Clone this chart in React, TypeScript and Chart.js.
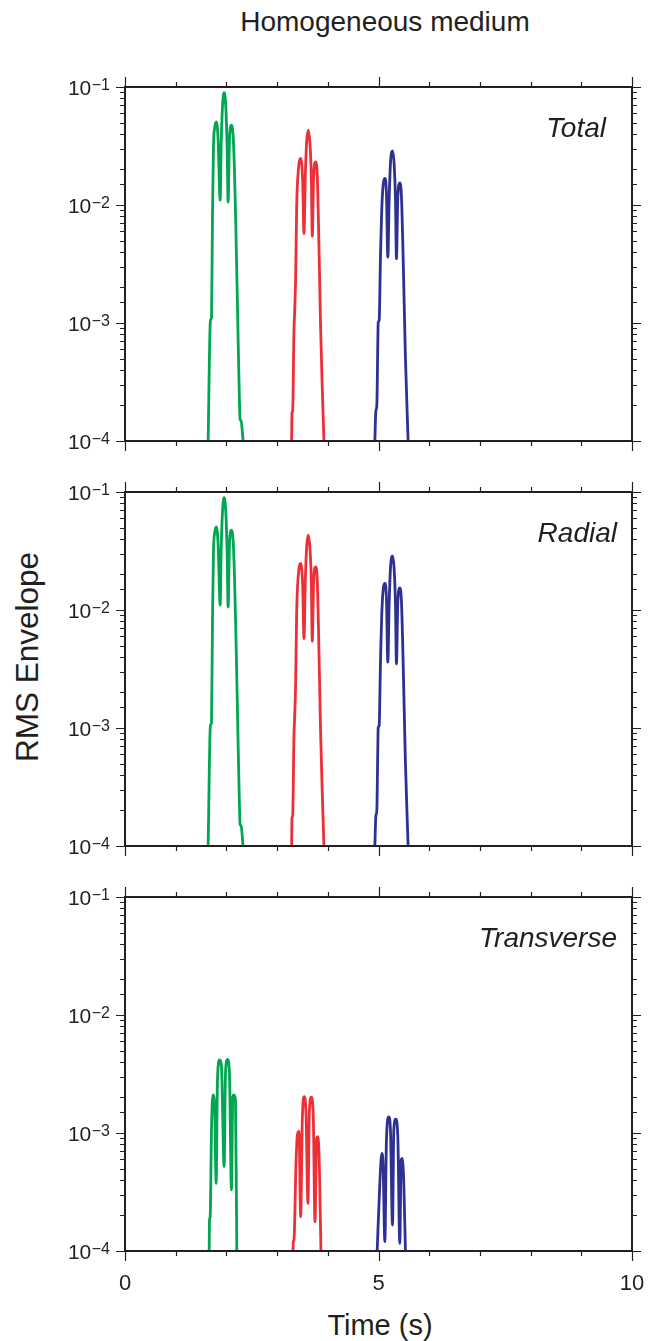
import React, { useEffect, useRef } from "react";
import { Chart, registerables } from "chart.js";

Chart.register(...registerables);

const FONT = "'Liberation Sans', Arial, Helvetica, sans-serif";
const INK = "#231f20";
const GREEN = "#00a651";
const RED = "#ed2f38";
const BLUE = "#2e3192";

const X_MIN = 0;
const X_MAX = 10;
const Y_MIN = 1e-4;
const Y_MAX = 1e-1;
const X_TICK_LABELS = [0, 5, 10];
const Y_DECADES = [1e-4, 1e-3, 1e-2, 1e-1];
const Y_EXPONENTS = ["\u22124", "\u22123", "\u22122", "\u22121"];

const TITLE = "Homogeneous medium";
const Y_TITLE = "RMS Envelope";
const X_TITLE = "Time (s)";
const PANEL_LABELS = ["Total", "Radial", "Transverse"];

// Total and Radial components (the two panels look identical)
const totalGreenT = [1.640, 1.680, 1.693, 1.706, 1.726, 1.745, 1.772, 1.804, 1.837, 1.877, 1.896, 1.923, 1.955, 1.988, 2.014, 2.034, 2.060, 2.100, 2.132, 2.159, 2.185, 2.224, 2.257, 2.270, 2.290, 2.329];
const totalGreenA = [1.0e-4, 9.8e-4, 1.08e-3, 1.10e-3, 8.45e-3, 3.11e-2, 4.60e-2, 5.07e-2, 3.55e-2, 1.10e-2, 3.11e-2, 6.81e-2, 8.95e-2, 6.81e-2, 3.11e-2, 1.06e-2, 3.55e-2, 4.75e-2, 3.91e-2, 1.97e-2, 6.95e-3, 1.05e-3, 2.19e-4, 1.53e-4, 1.48e-4, 1.0e-4];

const totalRedT = [3.287, 3.294, 3.307, 3.333, 3.346, 3.366, 3.386, 3.419, 3.465, 3.504, 3.530, 3.556, 3.583, 3.616, 3.648, 3.675, 3.694, 3.720, 3.760, 3.793, 3.825, 3.858, 3.891, 3.924];
const totalRedA = [1.0e-4, 1.74e-4, 1.80e-4, 8.6e-4, 1.23e-3, 2.44e-3, 9.6e-3, 1.97e-2, 2.48e-2, 1.62e-2, 5.71e-3, 1.73e-2, 3.43e-2, 4.31e-2, 3.33e-2, 1.73e-2, 5.42e-3, 1.73e-2, 2.32e-2, 1.73e-2, 4.70e-3, 9.2e-4, 2.84e-4, 1.0e-4];

const totalBlueT = [4.928, 4.948, 4.967, 4.987, 4.994, 5.013, 5.039, 5.072, 5.125, 5.157, 5.184, 5.210, 5.236, 5.276, 5.308, 5.335, 5.354, 5.381, 5.420, 5.453, 5.486, 5.531, 5.584];
const totalBlueA = [1.0e-4, 1.8e-4, 2.0e-4, 7.08e-4, 1.01e-3, 1.05e-3, 3.61e-3, 1.10e-2, 1.68e-2, 1.25e-2, 3.61e-3, 1.10e-2, 2.25e-2, 2.88e-2, 2.25e-2, 1.10e-2, 3.50e-3, 1.17e-2, 1.54e-2, 1.17e-2, 3.61e-3, 5.12e-4, 1.0e-4];

// Transverse component
const transGreenT = [1.660, 1.667, 1.680, 1.706, 1.732, 1.765, 1.798, 1.824, 1.864, 1.903, 1.955, 1.982, 2.021, 2.060, 2.100, 2.126, 2.146, 2.179, 2.205];
const transGreenA = [1.0e-4, 1.83e-4, 1.95e-4, 1.06e-3, 2.10e-3, 1.84e-3, 3.74e-4, 2.81e-3, 4.16e-3, 3.65e-3, 5.19e-4, 3.21e-3, 4.21e-3, 3.21e-3, 3.29e-4, 2.03e-3, 2.10e-3, 1.91e-3, 1.0e-4];

const transRedT = [3.314, 3.320, 3.333, 3.373, 3.399, 3.432, 3.465, 3.497, 3.537, 3.570, 3.609, 3.635, 3.675, 3.714, 3.747, 3.780, 3.806, 3.832, 3.865];
const transRedA = [1.0e-4, 1.20e-4, 1.24e-4, 5.53e-4, 9.6e-4, 1.03e-3, 1.95e-4, 1.29e-3, 2.03e-3, 1.47e-3, 2.53e-4, 1.47e-3, 2.01e-3, 1.37e-3, 1.77e-4, 9.0e-4, 9.3e-4, 5.53e-4, 1.0e-4];

const transBlueT = [4.974, 5.026, 5.066, 5.092, 5.125, 5.157, 5.203, 5.236, 5.276, 5.302, 5.341, 5.381, 5.420, 5.446, 5.466, 5.499, 5.531];
const transBlueA = [1.0e-4, 3.74e-4, 6.73e-4, 5.19e-4, 1.20e-4, 8.73e-4, 1.37e-3, 1.06e-3, 1.66e-4, 1.06e-3, 1.31e-3, 9.3e-4, 1.16e-4, 5.9e-4, 6.1e-4, 3.74e-4, 1.0e-4];

const toPoints = (t: number[], a: number[]) => t.map((x, i) => ({ x, y: a[i] }));

const isDecade = (v: number) => {
  const l = Math.log10(v);
  return Math.abs(l - Math.round(l)) < 1e-6;
};

const framePlugin = {
  id: "frame",
  afterDatasetsDraw(chart: any, _args: any, opts: any) {
    const { ctx, chartArea: a, scales } = chart;
    const xs = scales.x;
    const ys = scales.y;
    ctx.save();
    ctx.strokeStyle = INK;
    ctx.lineWidth = 1.2;
    ctx.beginPath();
    for (const t of xs.ticks) {
      const px = Math.round(xs.getPixelForValue(t.value)) + 0.5;
      const len = X_TICK_LABELS.includes(Math.round(t.value)) ? 10 : 5;
      ctx.moveTo(px, a.bottom);
      ctx.lineTo(px, a.bottom + len);
      ctx.moveTo(px, a.top);
      ctx.lineTo(px, a.top - len);
    }
    for (const t of ys.ticks) {
      const py = Math.round(ys.getPixelForValue(t.value)) + 0.5;
      const len = isDecade(t.value) ? 9 : 5;
      ctx.moveTo(a.left, py);
      ctx.lineTo(a.left - len, py);
      ctx.moveTo(a.right, py);
      ctx.lineTo(a.right + len, py);
    }
    ctx.stroke();

    ctx.lineWidth = 2;
    ctx.strokeRect(a.left, a.top, a.right - a.left, a.bottom - a.top);

    ctx.fillStyle = INK;
    ctx.textAlign = "right";
    ctx.textBaseline = "alphabetic";
    const labelRight = 110;
    Y_DECADES.forEach((v, i) => {
      const py = ys.getPixelForValue(v);
      ctx.font = `16px ${FONT}`;
      const exp = Y_EXPONENTS[i];
      const w = ctx.measureText(exp).width;
      ctx.fillText(exp, labelRight, py + 3.2);
      ctx.font = `21px ${FONT}`;
      ctx.fillText("10", labelRight - w - 0.5, py + 7.8);
    });

    ctx.font = `italic 28px ${FONT}`;
    ctx.textAlign = "right";
    ctx.fillText(opts.label, opts.labelRight, a.top + 50);
    ctx.restore();
  },
};

type PanelProps = {
  top: number;
  label: string;
  labelRight: number;
  showX: boolean;
  series: { t: number[]; a: number[]; color: string }[];
};

const PLOT_H = 354;
const PAD_TOP = 20;

function Panel({ top, label, labelRight, showX, series }: PanelProps) {
  const ref = useRef<HTMLCanvasElement | null>(null);
  const xh = showX ? 70 : 20;
  const H = PAD_TOP + PLOT_H + xh;
  useEffect(() => {
    if (!ref.current) return;
    const chart = new Chart(ref.current, {
      type: "line",
      data: {
        datasets: series.map((s) => ({
          data: toPoints(s.t, s.a),
          borderColor: s.color,
          backgroundColor: s.color,
          borderWidth: 2.8,
          pointRadius: 0,
          cubicInterpolationMode: "monotone",
          fill: false,
        })),
      },
      options: {
        animation: false,
        responsive: false,
        devicePixelRatio: 1,
        events: [],
        layout: { padding: { top: PAD_TOP, right: 26, left: 0, bottom: 0 } },
        plugins: {
          legend: { display: false },
          tooltip: { enabled: false },
          frame: { label, labelRight },
        } as any,
        scales: {
          x: {
            type: "linear",
            min: X_MIN,
            max: X_MAX,
            ticks: {
              display: showX,
              stepSize: 1,
              autoSkip: false,
              maxRotation: 0,
              padding: 20,
              color: INK,
              font: { size: 22, family: FONT },
              callback: (v: any) => (X_TICK_LABELS.includes(Number(v)) ? String(v) : ""),
            },
            grid: { display: false, drawTicks: false },
            border: { display: false },
            afterFit: (s: any) => {
              s.height = xh;
              s.paddingLeft = 0;
              s.paddingRight = 0;
            },
          },
          y: {
            type: "logarithmic",
            min: Y_MIN,
            max: Y_MAX,
            ticks: { display: false },
            grid: { display: false, drawTicks: false },
            border: { display: false },
            afterFit: (s: any) => {
              s.width = 125;
              s.paddingTop = 0;
              s.paddingBottom = 0;
            },
          },
        },
      } as any,
      plugins: [framePlugin],
    });
    return () => chart.destroy();
  }, []);
  return (
    <canvas
      ref={ref}
      width={658}
      height={H}
      style={{ position: "absolute", left: 0, top: top - PAD_TOP, width: 658, height: H }}
    />
  );
}

const totalSeries = [
  { t: totalGreenT, a: totalGreenA, color: GREEN },
  { t: totalRedT, a: totalRedA, color: RED },
  { t: totalBlueT, a: totalBlueA, color: BLUE },
];
const transSeries = [
  { t: transGreenT, a: transGreenA, color: GREEN },
  { t: transRedT, a: transRedA, color: RED },
  { t: transBlueT, a: transBlueA, color: BLUE },
];

export default function App() {
  const text: React.CSSProperties = {
    position: "absolute",
    fontFamily: FONT,
    fontSize: 28,
    lineHeight: "28px",
    color: INK,
    whiteSpace: "nowrap",
  };
  return (
    <div style={{ position: "absolute", left: 0, top: 0, width: 658, height: 1341, background: "#fff", overflow: "hidden" }}>
      <div style={{ ...text, left: 385, top: 8, transform: "translateX(-50%)" }}>{TITLE}</div>
      <div style={{ ...text, fontSize: 31.5, lineHeight: "32px", left: 27, top: 657, transform: "translate(-50%, -50%) rotate(-90deg)" }}>{Y_TITLE}</div>
      <div style={{ ...text, fontSize: 29, left: 380, top: 1311, transform: "translateX(-50%)" }}>{X_TITLE}</div>
      <Panel top={87} label={PANEL_LABELS[0]} labelRight={606} showX={false} series={totalSeries} />
      <Panel top={492} label={PANEL_LABELS[1]} labelRight={617} showX={false} series={totalSeries} />
      <Panel top={897} label={PANEL_LABELS[2]} labelRight={617} showX={true} series={transSeries} />
    </div>
  );
}
